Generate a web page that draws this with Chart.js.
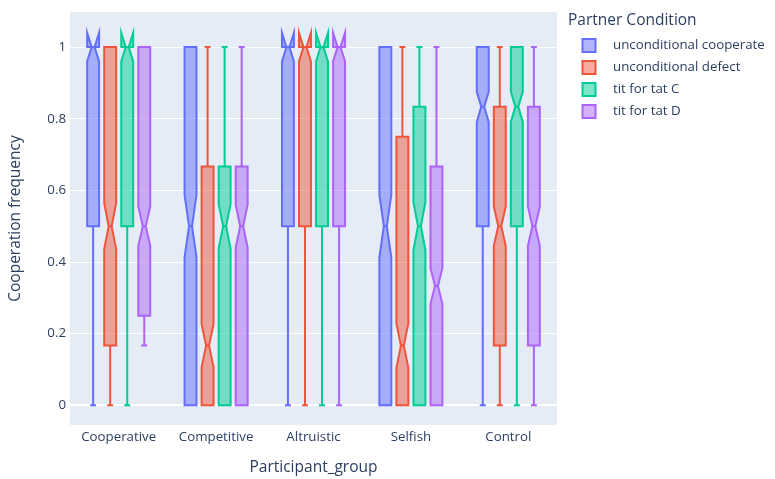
<!DOCTYPE html>
<html>
<head>
<meta charset="utf-8">
<script src="https://cdn.jsdelivr.net/npm/chart.js@4"></script>
<style>
  html, body { margin: 0; padding: 0; background: #ffffff; }
  #wrap { width: 775px; height: 479px; }
</style>
</head>
<body>
<div id="wrap"><canvas id="c" width="775" height="479"></canvas></div>
<script>
// ---- Data ----
const categories = ['Cooperative', 'Competitive', 'Altruistic', 'Selfish', 'Control'];
const seriesNames = ['unconditional cooperate', 'unconditional defect', 'tit for tat C', 'tit for tat D'];
const yTickValues = [0, 0.2, 0.4, 0.6, 0.8, 1];
const yTickLabels = ['0', '0.2', '0.4', '0.6', '0.8', '1'];

// five-number summaries per category: [min, q1, median, q3, max]
const uncondCoopStats = [[0, 0.5, 1, 1, 1], [0, 0, 0.5, 1, 1], [0, 0.5, 1, 1, 1], [0, 0, 0.5, 1, 1], [0, 0.5, 0.8333, 1, 1]];
const uncondDefectStats = [[0, 0.1667, 0.5, 1, 1], [0, 0, 0.1667, 0.6667, 1], [0, 0.5, 1, 1, 1], [0, 0, 0.1667, 0.75, 1], [0, 0.1667, 0.5, 0.8333, 1]];
const titForTatCStats = [[0, 0.5, 1, 1, 1], [0, 0, 0.5, 0.6667, 1], [0, 0.5, 1, 1, 1], [0, 0, 0.5, 0.8333, 1], [0, 0.5, 0.8333, 1, 1]];
const titForTatDStats = [[0.1667, 0.25, 0.5, 1, 1], [0, 0, 0.5, 0.6667, 1], [0, 0.5, 1, 1, 1], [0, 0, 0.3333, 0.6667, 1], [0, 0.1667, 0.5, 0.8333, 1]];

// notch half-spans around the median
const uncondCoopNotch = [0.04, 0.087, 0.04, 0.087, 0.042];
const uncondDefectNotch = [0.064, 0.06, 0.04, 0.062, 0.055];
const titForTatCNotch = [0.04, 0.062, 0.04, 0.067, 0.042];
const titForTatDNotch = [0.055, 0.06, 0.04, 0.05, 0.055];

const seriesStats = [uncondCoopStats, uncondDefectStats, titForTatCStats, titForTatDStats];
const seriesNotch = [uncondCoopNotch, uncondDefectNotch, titForTatCNotch, titForTatDNotch];
const seriesColors = ['#636efa', '#EF553B', '#00cc96', '#ab63fa'];

// ---- helpers ----
function hexA(hex, a) {
  const n = parseInt(hex.slice(1), 16);
  return 'rgba(' + ((n >> 16) & 255) + ',' + ((n >> 8) & 255) + ',' + (n & 255) + ',' + a + ')';
}
const FONT = '"Open Sans", verdana, arial, sans-serif';
const TEXT = '#2a3f5f';

const bgPlugin = {
  id: 'plotbg',
  beforeDraw(chart) {
    const a = chart.chartArea, ctx = chart.ctx;
    ctx.save();
    ctx.fillStyle = '#E5ECF6';
    ctx.fillRect(a.left, a.top, a.right - a.left, a.bottom - a.top);
    ctx.restore();
  }
};

const boxPlugin = {
  id: 'notchedBoxes',
  beforeDatasetDraw() { return false; },
  afterDatasetsDraw(chart) {
    const ctx = chart.ctx, y = chart.scales.y;
    const a = chart.chartArea;
    ctx.save();
    ctx.beginPath();
    ctx.rect(a.left, a.top, a.right - a.left, a.bottom - a.top);
    ctx.clip();
    chart.data.datasets.forEach((ds, di) => {
      const meta = chart.getDatasetMeta(di);
      const color = ds.borderColor;
      meta.data.forEach((el, i) => {
        const s = ds.stats[i];
        const nt = ds.notch[i];
        const p = el.getProps(['x', 'width'], true);
        const cx = p.x, hw = p.width / 2;
        const x0 = cx - hw, x1 = cx + hw;
        const xm0 = cx - hw * 0.25, xm1 = cx + hw * 0.25;
        const xw0 = cx - hw * 0.5, xw1 = cx + hw * 0.5;
        const yMin = y.getPixelForValue(s[0]);
        const yQ1 = y.getPixelForValue(s[1]);
        const yMed = y.getPixelForValue(s[2]);
        const yQ3 = y.getPixelForValue(s[3]);
        const yMax = y.getPixelForValue(s[4]);
        const yLn = y.getPixelForValue(s[2] - nt);
        const yUn = y.getPixelForValue(s[2] + nt);
        ctx.lineWidth = 2;
        ctx.strokeStyle = color;
        ctx.lineJoin = 'miter';
        // box with notch
        ctx.beginPath();
        ctx.moveTo(x0, yLn);
        ctx.lineTo(x0, yQ1);
        ctx.lineTo(x1, yQ1);
        ctx.lineTo(x1, yLn);
        ctx.lineTo(xm1, yMed);
        ctx.lineTo(x1, yUn);
        ctx.lineTo(x1, yQ3);
        ctx.lineTo(x0, yQ3);
        ctx.lineTo(x0, yUn);
        ctx.lineTo(xm0, yMed);
        ctx.closePath();
        ctx.fillStyle = hexA(color, 0.5);
        ctx.fill();
        ctx.stroke();
        // median
        ctx.beginPath();
        ctx.moveTo(xm0, yMed);
        ctx.lineTo(xm1, yMed);
        ctx.stroke();
        // whiskers
        ctx.beginPath();
        if (yMin !== yQ1) {
          ctx.moveTo(cx, yQ1); ctx.lineTo(cx, yMin);
          ctx.moveTo(xw0, yMin); ctx.lineTo(xw1, yMin);
        }
        if (yMax !== yQ3) {
          ctx.moveTo(cx, yQ3); ctx.lineTo(cx, yMax);
          ctx.moveTo(xw0, yMax); ctx.lineTo(xw1, yMax);
        }
        ctx.stroke();
      });
    });
    ctx.restore();
  }
};

const legendPlugin = {
  id: 'plotlyLegend',
  afterDraw(chart) {
    const ctx = chart.ctx;
    const left = chart.chartArea.right + 11;
    ctx.save();
    ctx.fillStyle = TEXT;
    ctx.textBaseline = 'middle';
    ctx.textAlign = 'left';
    ctx.font = '15.5px ' + FONT;
    ctx.fillText('Partner Condition', left, 21);
    ctx.font = '13.3px ' + FONT;
    chart.data.datasets.forEach((ds, i) => {
      const cy = 45.5 + i * 22;
      const bx = left + 21;
      ctx.lineWidth = 2;
      ctx.fillStyle = hexA(ds.borderColor, 0.5);
      ctx.strokeStyle = ds.borderColor;
      ctx.beginPath();
      ctx.rect(bx - 6.5, cy - 6.5, 13, 13);
      ctx.fill();
      ctx.stroke();
      ctx.fillStyle = TEXT;
      ctx.fillText(ds.label, left + 45, cy);
    });
    ctx.restore();
  }
};

const datasets = seriesNames.map((name, i) => ({
  label: name,
  data: seriesStats[i].map(s => [s[0], s[4]]),
  stats: seriesStats[i],
  notch: seriesNotch[i],
  backgroundColor: hexA(seriesColors[i], 0.5),
  borderColor: seriesColors[i],
  borderWidth: 2
}));

new Chart(document.getElementById('c'), {
  type: 'bar',
  data: { labels: categories, datasets: datasets },
  options: {
    responsive: false,
    animation: false,
    devicePixelRatio: 1,
    layout: { padding: { top: 6, right: 218, left: 0, bottom: 0 } },
    datasets: { bar: { categoryPercentage: 0.7, barPercentage: 0.7 } },
    plugins: { legend: { display: false }, tooltip: { enabled: false } },
    scales: {
      x: {
        grid: { display: false, drawTicks: false },
        border: { display: false },
        ticks: { padding: 4, color: TEXT, font: { family: FONT, size: 13.3 } },
        title: { display: true, text: 'Participant_group', color: TEXT, font: { family: FONT, size: 15.5 }, padding: { top: 0, bottom: 2 } },
        afterFit(s) { s.height = 54; }
      },
      y: {
        min: -0.055,
        max: 1.098,
        afterBuildTicks(s) { s.ticks = yTickValues.map(v => ({ value: v })); },
        grid: {
          color: '#ffffff',
          lineWidth: c => (c.tick && c.tick.value === 0 ? 2 : 1),
          drawTicks: false
        },
        border: { display: false },
        ticks: {
          padding: 4, color: TEXT, font: { family: FONT, size: 13.3 },
          callback: (v) => { const k = yTickValues.indexOf(v); return k >= 0 ? yTickLabels[k] : ''; }
        },
        title: { display: true, text: 'Cooperation frequency', color: TEXT, font: { family: FONT, size: 15.5 }, padding: { top: 6, bottom: 0 } },
        afterFit(s) { s.width = 70; }
      }
    }
  },
  plugins: [bgPlugin, boxPlugin, legendPlugin]
});
</script>
</body>
</html>
